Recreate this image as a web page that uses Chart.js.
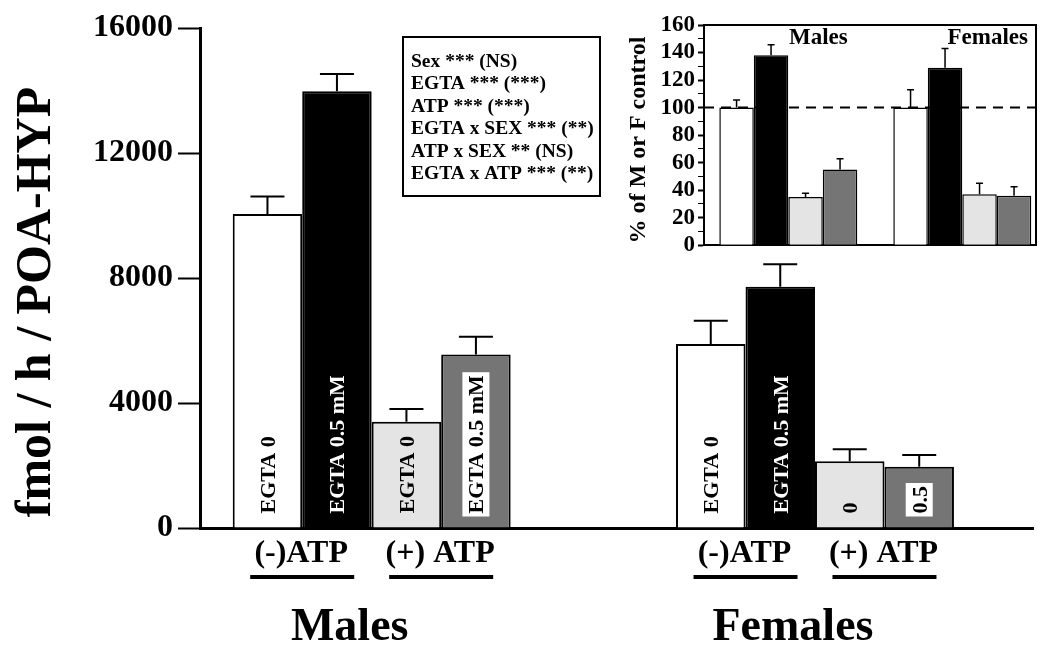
<!DOCTYPE html>
<html><head><meta charset="utf-8">
<script src="https://cdn.jsdelivr.net/npm/chart.js@4.4.1/dist/chart.umd.min.js"></script>
<style>
html,body{margin:0;padding:0;background:#fff;}
#wrap{position:relative;width:1050px;height:654px;overflow:hidden;}
#main{position:absolute;left:0;top:0;}
#inset{position:absolute;left:600px;top:0;}
</style></head><body>
<div id="wrap"><canvas id="main" width="1050" height="654"></canvas><canvas id="inset" width="450" height="262"></canvas></div>
<script>
// ---------- data ----------
const groups = ['Males', 'Females'];
const atpLabels = ['(-)ATP', '(+) ATP'];
const statLines = ['Sex *** (NS)', 'EGTA *** (***)', 'ATP *** (***)', 'EGTA x SEX *** (**)', 'ATP x SEX ** (NS)', 'EGTA x ATP *** (**)'];

// main chart: fmol / h / POA-HYP  (index 0 = Males, 1 = Females)
const noAtpEgta0 = [10050, 5890];
const noAtpEgta05 = [13980, 7720];
const atpEgta0 = [3400, 2140];
const atpEgta05 = [5550, 1960];
const noAtpEgta0Err = [560, 740];
const noAtpEgta05Err = [550, 720];
const atpEgta0Err = [410, 380];
const atpEgta05Err = [570, 380];
const mainTicks = [0, 4000, 8000, 12000, 16000];
const maleBarLabels = ['EGTA 0', 'EGTA 0.5 mM', 'EGTA 0', 'EGTA 0.5 mM'];
const femaleBarLabels = ['EGTA 0', 'EGTA 0.5 mM', '0', '0.5'];

// inset: % of M or F control
const pctNoAtpEgta0 = [100, 100];
const pctNoAtpEgta05 = [138, 129];
const pctAtpEgta0 = [35, 37];
const pctAtpEgta05 = [55, 36];
const pctNoAtpEgta0Err = [5.5, 13];
const pctNoAtpEgta05Err = [7.7, 14];
const pctAtpEgta0Err = [2.7, 8];
const pctAtpEgta05Err = [7.9, 6.5];
const insetTicks = [0, 20, 40, 60, 80, 100, 120, 140, 160];

const FONT = "'Liberation Serif','Times New Roman','DejaVu Serif',serif";
const fills = ['#ffffff', '#000000', '#e4e4e4', '#757575'];

function pts(arr) { return arr.map((v, i) => ({x: i, y: v})); }

// ---------- plugins ----------
const errorBars = {
  id: 'errorBars',
  afterDatasetsDraw(chart, args, opts) {
    const ctx = chart.ctx, ys = chart.scales.y;
    ctx.save();
    ctx.strokeStyle = '#000';
    ctx.lineWidth = opts.lineWidth;
    chart.data.datasets.forEach((ds, di) => {
      const meta = chart.getDatasetMeta(di);
      meta.data.forEach((el, i) => {
        const top = ys.getPixelForValue(ds.data[i].y + ds.errors[i]);
        ctx.beginPath();
        ctx.moveTo(el.x, el.y);
        ctx.lineTo(el.x, top);
        ctx.moveTo(el.x - opts.cap / 2, top);
        ctx.lineTo(el.x + opts.cap / 2, top);
        ctx.stroke();
      });
    });
    ctx.restore();
  }
};

const mainDecor = {
  id: 'mainDecor',
  afterDatasetsDraw(chart) {
    const ctx = chart.ctx;
    const xs = chart.scales.x;
    ctx.save();
    // bar labels
    ctx.font = 'bold 22px ' + FONT;
    chart.data.datasets.forEach((ds, di) => {
      const meta = chart.getDatasetMeta(di);
      meta.data.forEach((el, i) => {
        const txt = (i === 0 ? maleBarLabels : femaleBarLabels)[di];
        const w = ctx.measureText(txt).width;
        const h = el.base - el.y;
        let start = el.base - 14;
        if (w + 30 > h) start = (el.base + el.y) / 2 + w / 2;
        ctx.save();
        ctx.translate(el.x, start);
        ctx.rotate(-Math.PI / 2);
        if (ds.boxed) {
          ctx.fillStyle = '#fff';
          ctx.fillRect(-3, -13.5, w + 6, 27);
        }
        ctx.fillStyle = ds.textColor;
        ctx.textAlign = 'left';
        ctx.textBaseline = 'alphabetic';
        ctx.fillText(txt, 0, 7.5);
        ctx.restore();
      });
    });
    // stats box
    ctx.lineWidth = 2;
    ctx.strokeStyle = '#000';
    ctx.strokeRect(403, 37, 197, 159);
    ctx.fillStyle = '#000';
    ctx.font = 'bold 19.5px ' + FONT;
    ctx.textAlign = 'left';
    ctx.textBaseline = 'middle';
    statLines.forEach((t, i) => ctx.fillText(t, 411, 62 + i * 22.4));
    // y title
    ctx.save();
    ctx.translate(37, 302);
    ctx.rotate(-Math.PI / 2);
    ctx.font = 'bold 50px ' + FONT;
    ctx.textAlign = 'center';
    ctx.textBaseline = 'middle';
    ctx.fillText('fmol / h / POA-HYP', 0, 0);
    ctx.restore();
    // ATP labels and group labels
    const m0 = chart.getDatasetMeta(0).data, m1 = chart.getDatasetMeta(1).data,
          m2 = chart.getDatasetMeta(2).data, m3 = chart.getDatasetMeta(3).data;
    groups.forEach((g, gi) => {
      const pairCenters = [(m0[gi].x + m1[gi].x) / 2, (m2[gi].x + m3[gi].x) / 2];
      ctx.font = 'bold 32px ' + FONT;
      ctx.textAlign = 'center';
      ctx.textBaseline = 'middle';
      pairCenters.forEach((cx, k) => {
        ctx.fillText(atpLabels[k], cx - 1, 554);
        ctx.fillRect(cx - 52, 575, 104, 4);
      });
      ctx.font = 'bold 46px ' + FONT;
      ctx.fillText(g, xs.getPixelForValue(gi) - 22, 628);
    });
    ctx.restore();
  }
};

const insetDecor = {
  id: 'insetDecor',
  beforeDatasetsDraw(chart) {
    const ctx = chart.ctx, a = chart.chartArea, ys = chart.scales.y;
    ctx.save();
    ctx.strokeStyle = '#000';
    ctx.lineWidth = 2;
    ctx.setLineDash([10, 7]);
    const y = ys.getPixelForValue(100);
    ctx.beginPath();
    ctx.moveTo(a.left, y);
    ctx.lineTo(a.right, y);
    ctx.stroke();
    ctx.restore();
  },
  afterDatasetsDraw(chart) {
    const ctx = chart.ctx, a = chart.chartArea;
    ctx.save();
    ctx.strokeStyle = '#000';
    ctx.lineWidth = 2;
    ctx.beginPath();
    ctx.moveTo(a.left, a.top);
    ctx.lineTo(a.right, a.top);
    ctx.lineTo(a.right, a.bottom);
    ctx.stroke();
    ctx.fillStyle = '#000';
    ctx.font = 'bold 23px ' + FONT;
    ctx.textBaseline = 'middle';
    ctx.textAlign = 'left';
    ctx.fillText(groups[0], 189, 38);
    ctx.textAlign = 'right';
    ctx.fillText(groups[1], 428, 38);
    ctx.save();
    ctx.translate(39, 140);
    ctx.rotate(-Math.PI / 2);
    ctx.font = 'bold 24px ' + FONT;
    ctx.textAlign = 'center';
    ctx.fillText('% of M or F control', 0, 0);
    ctx.restore();
    ctx.restore();
  }
};

// ---------- main chart ----------
function mkDatasets(vals, errs, bw, cp) {
  const textColors = ['#000', '#fff', '#000', '#000'];
  const boxed = [false, false, false, true];
  return vals.map((v, i) => ({
    data: pts(v), errors: errs[i],
    backgroundColor: fills[i], borderColor: '#000', borderWidth: bw,
    textColor: textColors[i], boxed: boxed[i],
    categoryPercentage: cp, barPercentage: 1
  }));
}

const mainSets = mkDatasets([noAtpEgta0, noAtpEgta05, atpEgta0, atpEgta05],
  [noAtpEgta0Err, noAtpEgta05Err, atpEgta0Err, atpEgta05Err], 2, 0.627);

new Chart(document.getElementById('main'), {
  type: 'bar',
  data: {datasets: mainSets},
  options: {
    responsive: false, animation: false,
    layout: {padding: {top: 28, right: 17, left: 0, bottom: 0}},
    plugins: {legend: {display: false}, tooltip: {enabled: false}, errorBars: {lineWidth: 2, cap: 34}},
    scales: {
      x: {
        type: 'linear', min: -0.3873, max: 1.4918, offset: false,
        afterBuildTicks: s => { s.ticks = groups.map((g, i) => ({value: i})); },
        afterFit: s => { s.height = 126; },
        ticks: {display: false},
        grid: {display: false},
        border: {display: true, color: '#000', width: 3}
      },
      y: {
        min: 0, max: 16000,
        afterBuildTicks: s => { s.ticks = mainTicks.map(v => ({value: v})); },
        afterFit: s => { s.width = 200; },
        ticks: {color: '#000', font: {family: FONT, size: 32, weight: 'bold'}, padding: 5, autoSkip: false, callback: v => String(v)},
        grid: {drawOnChartArea: false, drawTicks: true, tickLength: 22, tickColor: '#000', tickWidth: 2},
        border: {display: true, color: '#000', width: 3}
      }
    }
  },
  plugins: [errorBars, mainDecor]
});

// ---------- inset chart ----------
const insetSets = mkDatasets([pctNoAtpEgta0, pctNoAtpEgta05, pctAtpEgta0, pctAtpEgta05],
  [pctNoAtpEgta0Err, pctNoAtpEgta05Err, pctAtpEgta0Err, pctAtpEgta05Err], 1.5, 0.793);

new Chart(document.getElementById('inset'), {
  type: 'bar',
  data: {datasets: insetSets},
  options: {
    responsive: false, animation: false,
    layout: {padding: {top: 25, right: 14, left: 0, bottom: 0}},
    plugins: {legend: {display: false}, tooltip: {enabled: false}, errorBars: {lineWidth: 1.5, cap: 7}},
    scales: {
      x: {
        type: 'linear', min: -0.4845, max: 1.4236, offset: false,
        afterBuildTicks: s => { s.ticks = groups.map((g, i) => ({value: i})); },
        afterFit: s => { s.height = 15; },
        ticks: {display: false},
        grid: {display: false},
        border: {display: true, color: '#000', width: 2}
      },
      y: {
        min: 0, max: 160,
        afterBuildTicks: s => {
          const t = [];
          for (let k = 0; k < insetTicks.length; k++) {
            t.push({value: insetTicks[k]});
            if (k < insetTicks.length - 1) t.push({value: (insetTicks[k] + insetTicks[k + 1]) / 2});
          }
          s.ticks = t;
        },
        afterFit: s => { s.width = 104; },
        ticks: {color: '#000', font: {family: FONT, size: 23, weight: 'bold'}, padding: 3, autoSkip: false,
                callback: v => insetTicks.includes(v) ? String(v) : ''},
        grid: {drawOnChartArea: false, drawTicks: true, tickLength: 6, tickColor: '#000',
               tickWidth: c => (c.tick && insetTicks.includes(c.tick.value)) ? 2 : 1},
        border: {display: true, color: '#000', width: 2}
      }
    }
  },
  plugins: [errorBars, insetDecor]
});
</script>
</body></html>
